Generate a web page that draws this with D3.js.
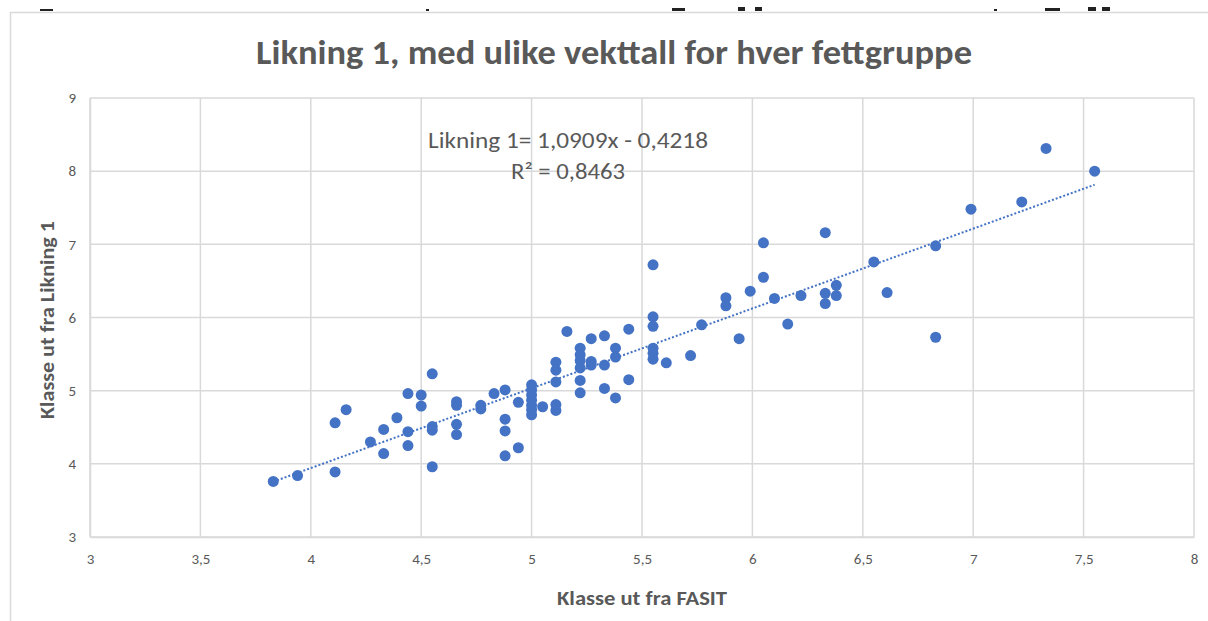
<!DOCTYPE html>
<html>
<head>
<meta charset="utf-8">
<script src="https://cdn.jsdelivr.net/npm/d3@7"></script>
<style>
  body { margin: 0; background: #fff; }
  svg { display: block; }
  .grid line { stroke: #d9d9d9; stroke-width: 1.5; }
  .tick text { fill: #595959; }
</style>
</head>
<body>
<svg id="chart" width="1208" height="621"></svg>
<script>
// values
const fasit = [3.83, 3.94, 4.11, 4.11, 4.16, 4.27, 4.33, 4.33, 4.39, 4.44, 4.44, 4.44, 4.50, 4.50,
  4.55, 4.55, 4.55, 4.55, 4.66, 4.66, 4.66, 4.66, 4.77, 4.77, 4.83, 4.88, 4.88, 4.88, 4.88,
  4.94, 4.94, 5.00, 5.00, 5.00, 5.00, 5.00, 5.00, 5.00, 5.05, 5.11, 5.11, 5.11, 5.11, 5.11,
  5.16, 5.22, 5.22, 5.22, 5.22, 5.22, 5.22, 5.27, 5.27, 5.27, 5.33, 5.33, 5.33, 5.38, 5.38,
  5.38, 5.44, 5.44, 5.55, 5.55, 5.55, 5.55, 5.55, 5.55, 5.61, 5.72, 5.77, 5.88, 5.88, 5.94,
  5.99, 6.05, 6.05, 6.10, 6.16, 6.22, 6.33, 6.33, 6.33, 6.38, 6.38, 6.55, 6.61, 6.83, 6.83,
  6.99, 7.22, 7.33, 7.55]
const likning = [3.76, 3.84, 3.89, 4.56, 4.74, 4.30, 4.47, 4.14, 4.63, 4.96, 4.44, 4.25, 4.94, 4.79,
  5.23, 4.51, 4.46, 3.96, 4.85, 4.80, 4.54, 4.40, 4.80, 4.75, 4.96, 5.01, 4.61, 4.45, 4.11,
  4.84, 4.22, 5.08, 5.01, 4.94, 4.87, 4.80, 4.74, 4.67, 4.78, 5.39, 5.28, 5.12, 4.81, 4.73,
  5.81, 5.58, 5.49, 5.41, 5.31, 5.14, 4.97, 5.71, 5.40, 5.35, 5.75, 5.35, 5.03, 5.58, 5.46,
  4.90, 5.84, 5.15, 6.72, 6.01, 5.88, 5.58, 5.51, 5.43, 5.38, 5.48, 5.90, 6.27, 6.16, 5.71,
  6.36, 7.02, 6.55, 6.26, 5.91, 6.30, 7.16, 6.33, 6.19, 6.44, 6.30, 6.76, 6.34, 6.98, 5.73,
  7.48, 7.58, 8.31, 8.00]
const xTicks = [3, 3.5, 4, 4.5, 5, 5.5, 6, 6.5, 7, 7.5, 8]
const yTicks = [3, 4, 5, 6, 7, 8, 9]
const slope = 1.0909
const intercept = -0.4218
const rSquared = 0.8463

const title = "Likning 1, med ulike vekttall for hver fettgruppe"
const xTitle = "Klasse ut fra FASIT"
const yTitle = "Klasse ut fra Likning 1"

const svg = d3.select("#chart")
const font = "Calibri, Carlito, 'Liberation Sans Narrow', 'Open Sans', sans-serif"
const plotLeft = 90, plotRight = 1194, plotTop = 98, plotBottom = 537
const blue = "#4472C4"
const comma = d => String(d).replace(".", ",")

// clipped descenders of the text above the screenshot
svg.append("g").attr("fill", "#222")
  .selectAll("rect")
  .data([[40, 13, 2], [426, 3, 2], [672, 13, 3], [738, 7, 4], [755, 7, 4],
         [994, 3, 2], [1045, 15, 3], [1088, 8, 4], [1102, 8, 4]])
  .join("rect")
  .attr("x", d => d[0]).attr("y", d => 11 - d[2])
  .attr("width", d => d[1]).attr("height", d => d[2])

// chart frame (left and top edges visible)
svg.append("path")
  .attr("d", "M10.5,621V12.5H1208")
  .attr("fill", "none").attr("stroke", "#d9d9d9").attr("stroke-width", 1.5)

const x = d3.scaleLinear().domain([3, 8]).range([plotLeft, plotRight])
const y = d3.scaleLinear().domain([3, 9]).range([plotBottom, plotTop])

// grid
svg.append("g").attr("class", "grid")
  .selectAll("line").data(xTicks).join("line")
  .attr("x1", d => x(d)).attr("x2", d => x(d))
  .attr("y1", plotTop).attr("y2", plotBottom)
svg.append("g").attr("class", "grid")
  .selectAll("line").data(yTicks).join("line")
  .attr("x1", plotLeft).attr("x2", plotRight)
  .attr("y1", d => y(d)).attr("y2", d => y(d))

const xAxis = d3.axisBottom(x).tickValues(xTicks).tickSize(0).tickPadding(16).tickFormat(comma)
const yAxis = d3.axisLeft(y).tickValues(yTicks).tickSize(0).tickPadding(14).tickFormat(comma)

const gx = svg.append("g").attr("transform", "translate(0," + plotBottom + ")").call(xAxis)
const gy = svg.append("g").attr("transform", "translate(" + plotLeft + ",0)").call(yAxis)
gx.select(".domain").attr("stroke", "#d9d9d9").attr("stroke-width", 1.5)
gy.select(".domain").attr("stroke", "#d9d9d9").attr("stroke-width", 1.5)
svg.selectAll(".tick text").style("font-family", font).style("font-size", "15px")

// trendline (dotted)
const xMin = d3.min(fasit), xMax = d3.max(fasit)
svg.append("line")
  .attr("x1", x(xMin)).attr("y1", y(slope * xMin + intercept))
  .attr("x2", x(xMax)).attr("y2", y(slope * xMax + intercept))
  .attr("stroke", blue).attr("stroke-width", 2)
  .attr("stroke-dasharray", "2,2")

// points
svg.append("g").selectAll("circle")
  .data(fasit.map((d, i) => [d, likning[i]]))
  .join("circle")
  .attr("cx", d => x(d[0]))
  .attr("cy", d => y(d[1]))
  .attr("r", 5.5)
  .attr("fill", blue)

// title
svg.append("text")
  .attr("x", 614).attr("y", 64)
  .attr("text-anchor", "middle")
  .attr("textLength", 716).attr("lengthAdjust", "spacingAndGlyphs")
  .style("font-family", font).style("font-size", "34px").style("font-weight", "bold")
  .attr("fill", "#595959")
  .text(title)

// equation label
const eq = svg.append("text")
  .style("font-family", font).style("font-size", "22px").attr("fill", "#595959")
eq.append("tspan").attr("x", 568).attr("y", 148).attr("text-anchor", "middle")
  .attr("textLength", 280).attr("lengthAdjust", "spacingAndGlyphs")
  .text("Likning 1= " + comma(slope) + "x - " + comma(Math.abs(intercept)))
eq.append("tspan").attr("x", 568).attr("y", 179).attr("text-anchor", "middle")
  .attr("textLength", 114).attr("lengthAdjust", "spacingAndGlyphs")
  .text("R² = " + comma(rSquared))

// axis titles
svg.append("text")
  .attr("x", 642).attr("y", 605)
  .attr("text-anchor", "middle")
  .attr("textLength", 170).attr("lengthAdjust", "spacingAndGlyphs")
  .style("font-family", font).style("font-size", "20px").style("font-weight", "bold")
  .attr("fill", "#595959")
  .text(xTitle)
svg.append("text")
  .attr("transform", "translate(54,320) rotate(-90)")
  .attr("text-anchor", "middle")
  .attr("textLength", 198).attr("lengthAdjust", "spacingAndGlyphs")
  .style("font-family", font).style("font-size", "20px").style("font-weight", "bold")
  .attr("fill", "#595959")
  .text(yTitle)
</script>
</body>
</html>
